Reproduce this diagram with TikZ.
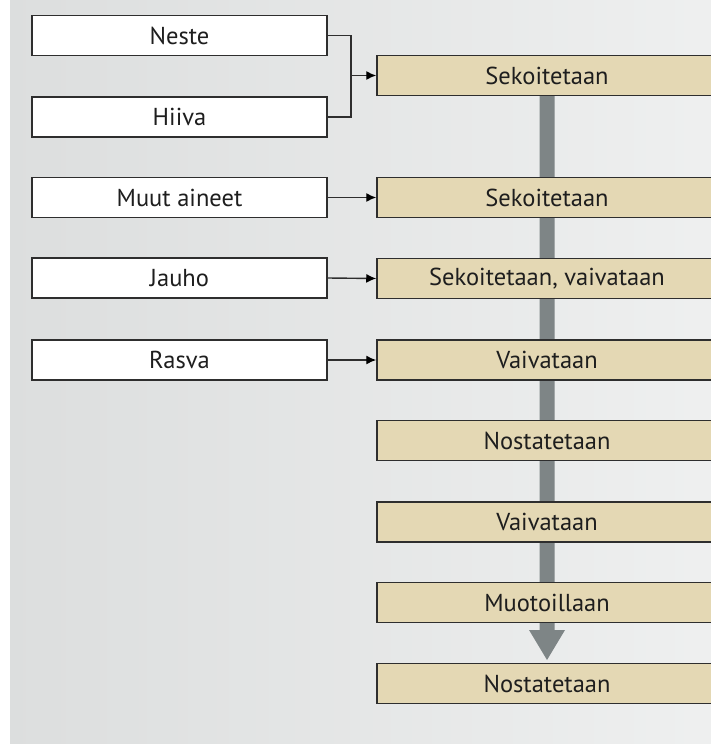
\documentclass[tikz,border=0pt]{standalone}
\usepackage{fontspec}
\setmainfont{PT Sans}
\usetikzlibrary{arrows.meta}
\definecolor{bgc}{HTML}{E3E5E5}
\definecolor{tan}{HTML}{E4D8B4}
\definecolor{edge}{HTML}{2E2E2E}
\definecolor{flow}{HTML}{7E8586}
\definecolor{txt}{HTML}{1E1E1E}
\tikzset{
  inbox/.style={draw=edge, line width=1.5pt, fill=white, minimum width=295pt, minimum height=40pt, inner sep=0pt, text=txt, font=\fontsize{24.5}{28}\selectfont},
  stepbox/.style={draw=edge, line width=1.5pt, fill=tan, minimum width=340pt, minimum height=40pt, inner sep=0pt, text=txt, font=\fontsize{24.5}{28}\selectfont},
  conn/.style={draw=edge, line width=1.4pt},
  arr/.style={conn, -{Latex[length=10pt,width=9pt,black]}}
}
\begin{document}
\begin{tikzpicture}[x=1pt,y=-1pt]
\useasboundingbox (0,0) rectangle (711,744);
\fill[white] (0,0) rectangle (711,744);
\shade[left color=bgc!97!black, right color=bgc!60!white] (10,0) rectangle (711,744);
% main flow arrow
\fill[flow] (539.5,90) -- (554.5,90) -- (554.5,630) -- (565,630) -- (547,660) -- (529,630) -- (539.5,630) -- cycle;
% input boxes
\node[inbox] (neste) at (179.5,35.5) {Neste};
\node[inbox] (hiiva) at (179.5,117) {Hiiva};
\node[inbox] (muut) at (179.5,197.5) {Muut aineet};
\node[inbox] (jauho) at (179.5,278) {Jauho};
\node[inbox] (rasva) at (179.5,360) {Rasva};
% process boxes
\node[stepbox] (s1) at (547,75.5) {Sekoitetaan};
\node[stepbox] (s2) at (547,197.5) {Sekoitetaan};
\node[stepbox] (s3) at (547,278.5) {Sekoitetaan, vaivataan};
\node[stepbox] (s4) at (547,360) {Vaivataan};
\node[stepbox] (s5) at (547,440.5) {Nostatetaan};
\node[stepbox] (s6) at (547,522) {Vaivataan};
\node[stepbox] (s7) at (547,602.5) {Muotoillaan};
\node[stepbox] (s8) at (547,683.5) {Nostatetaan};
% connectors
\coordinate (j) at (351,75.5);
\draw[conn] (neste.east) -- (neste.east -| j) -- (hiiva.east -| j) -- (hiiva.east);
\draw[arr] (j) -- (s1.west);
\draw[arr] (muut.east) -- (s2.west);
\draw[arr] (jauho.east) -- (s3.west);
\draw[arr] (rasva.east) -- (s4.west);
\end{tikzpicture}
\end{document}
